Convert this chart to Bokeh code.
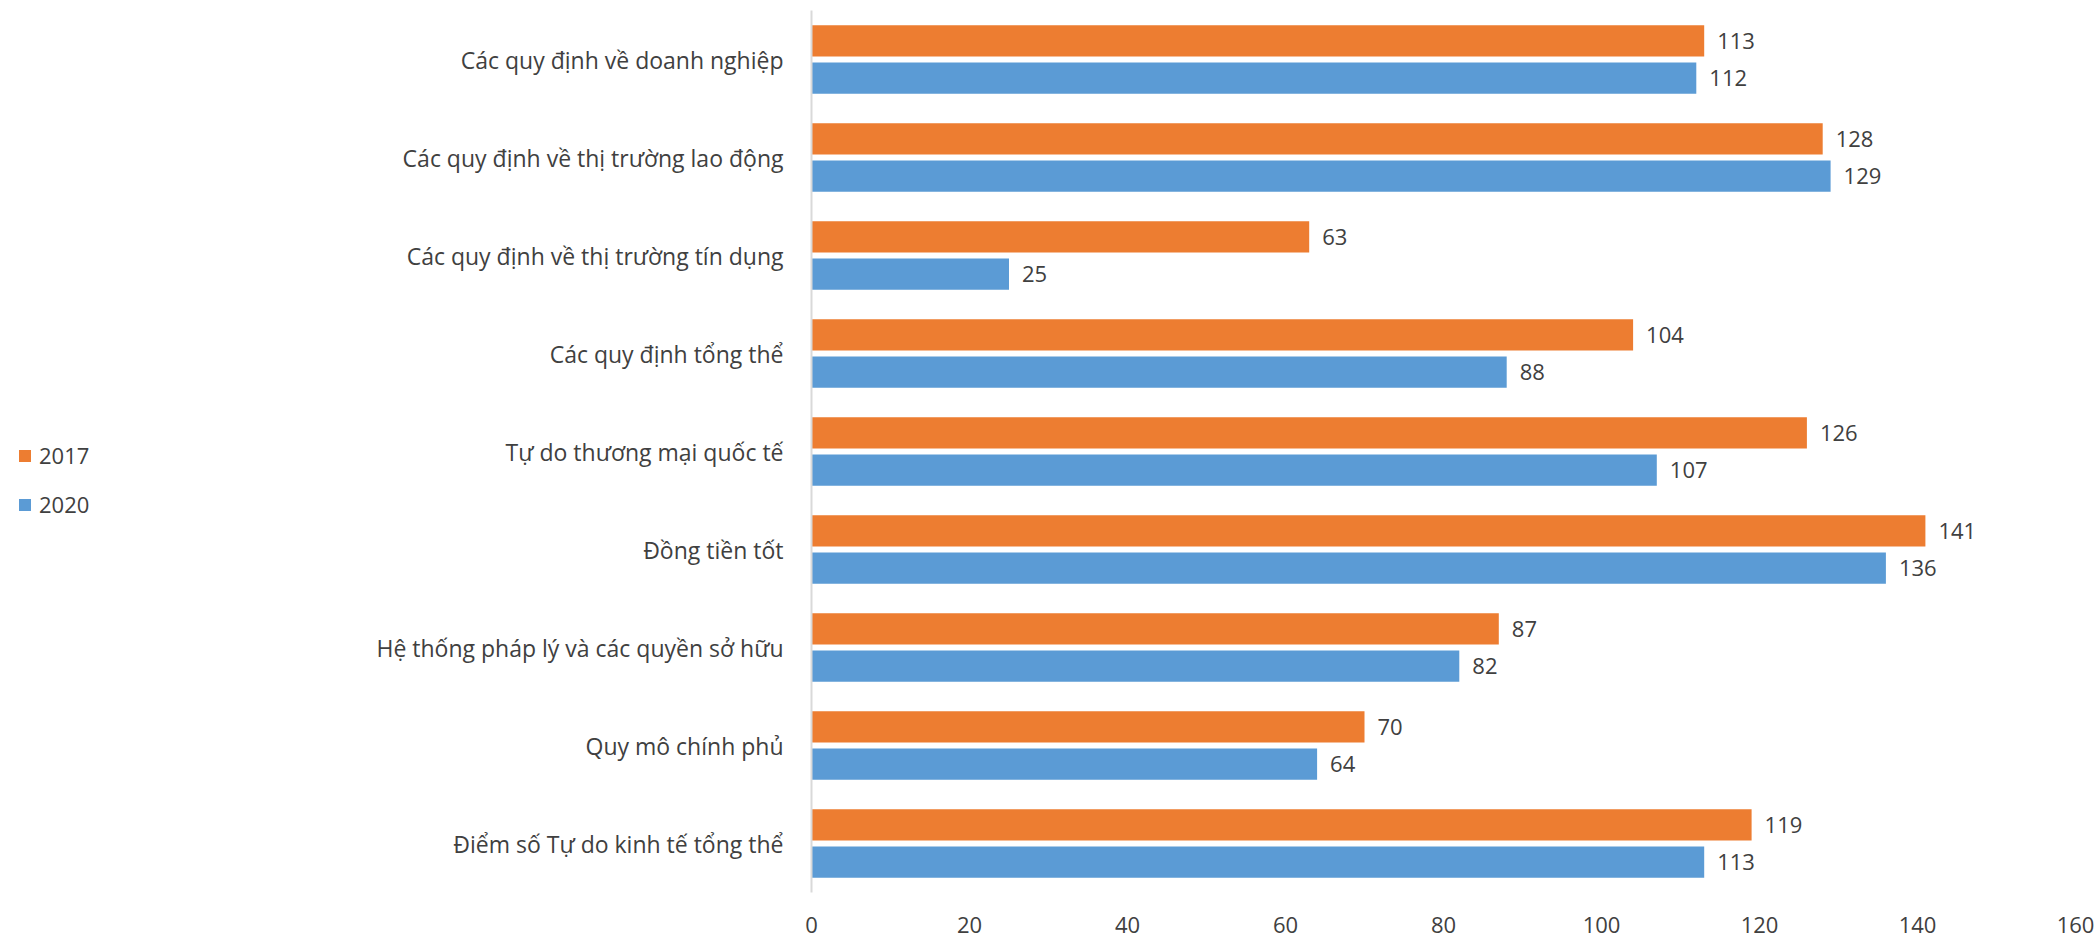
from bokeh.plotting import figure
from bokeh.layouts import row
from bokeh.models import ColumnDataSource, FactorRange, Range1d, Legend, LegendItem, FixedTicker
from bokeh.transform import dodge
from bokeh.core.properties import value
from bokeh.embed import file_html
from bokeh.resources import INLINE

categories = [
    "Các quy định về doanh nghiệp",
    "Các quy định về thị trường lao động",
    "Các quy định về thị trường tín dụng",
    "Các quy định tổng thể",
    "Tự do thương mại quốc tế",
    "Đồng tiền tốt",
    "Hệ thống pháp lý và các quyền sở hữu",
    "Quy mô chính phủ",
    "Điểm số Tự do kinh tế tổng thể",
]
values_2017 = [113, 128, 63, 104, 126, 141, 87, 70, 119]
values_2020 = [112, 129, 25, 88, 107, 136, 82, 64, 113]
series_names = ["2017", "2020"]
x_ticks = [0, 20, 40, 60, 80, 100, 120, 140, 160]

ORANGE = "#ED7D31"
BLUE = "#5B9BD5"
TEXT = "#404040"
FONT = "Open Sans"

LEG_W = 150
TOTAL_W = 2097
H = 939

src = ColumnDataSource(data=dict(
    cat=categories,
    v2017=values_2017,
    v2020=values_2020,
    l2017=[str(v) for v in values_2017],
    l2020=[str(v) for v in values_2020],
))

# ---- legend-only figure on the left ----
lf = figure(width=LEG_W, height=H, x_range=Range1d(0, 1), y_range=Range1d(0, 1),
            output_backend="svg", toolbar_location=None,
            min_border_left=0, min_border_right=0, min_border_top=0, min_border_bottom=0)
lf.axis.visible = False
lf.grid.grid_line_color = None
lf.outline_line_color = None
lf.background_fill_color = "white"
lf.border_fill_color = "white"
# one off-screen cell per series, only so that the legend has a glyph to show
hidden = ColumnDataSource(data=dict(l=[10], r=[11], b=[10], t=[11]))
lr1 = lf.quad(left="l", right="r", bottom="b", top="t", source=hidden,
              fill_color=ORANGE, line_color=None)
lr2 = lf.quad(left="l", right="r", bottom="b", top="t", source=hidden,
              fill_color=BLUE, line_color=None)
legend = Legend(
    items=[LegendItem(label=series_names[0], renderers=[lr1]),
           LegendItem(label=series_names[1], renderers=[lr2])],
    location=(17, 373),
    orientation="vertical",
    background_fill_alpha=0, border_line_color=None,
    label_text_font=FONT, label_text_font_size="22px", label_text_color=TEXT,
    glyph_width=15, glyph_height=15, spacing=19, label_standoff=7, padding=0,
    margin=0,
)
lf.add_layout(legend, "center")

# ---- main chart ----
p = figure(
    width=TOTAL_W - LEG_W, height=H,
    y_range=FactorRange(factors=list(reversed(categories)), range_padding=0),
    x_range=Range1d(0, 160),
    output_backend="svg", toolbar_location=None,
    min_border_left=811 - LEG_W, min_border_right=22, min_border_top=10, min_border_bottom=47,
)
p.outline_line_color = None
p.grid.grid_line_color = None
p.background_fill_color = "white"
p.border_fill_color = "white"

p.hbar(y=dodge("cat", 0.19, range=p.y_range), right="v2017", left=0, height=0.32,
       source=src, fill_color=ORANGE, line_color=None)
p.hbar(y=dodge("cat", -0.19, range=p.y_range), right="v2020", left=0, height=0.32,
       source=src, fill_color=BLUE, line_color=None)

p.text(x="v2017", y=dodge("cat", 0.19, range=p.y_range), text="l2017", source=src,
       x_offset=13, text_baseline="middle", text_align="left",
       text_font=value(FONT), text_font_size="22px", text_color=TEXT)
p.text(x="v2020", y=dodge("cat", -0.19, range=p.y_range), text="l2020", source=src,
       x_offset=13, text_baseline="middle", text_align="left",
       text_font=value(FONT), text_font_size="22px", text_color=TEXT)

xa = p.xaxis[0]
xa.ticker = FixedTicker(ticks=x_ticks)
xa.axis_line_color = None
xa.major_tick_line_color = None
xa.minor_tick_line_color = None
xa.major_label_standoff = 18
xa.major_label_text_font = FONT
xa.major_label_text_font_size = "22px"
xa.major_label_text_color = TEXT

ya = p.yaxis[0]
ya.axis_line_color = "#D9D9D9"
ya.axis_line_width = 2
ya.major_tick_line_color = None
ya.minor_tick_line_color = None
ya.major_label_standoff = 22
ya.major_label_text_font = FONT
ya.major_label_text_font_size = "23px"
ya.major_label_text_color = TEXT

layout = row(lf, p, spacing=0)
open("out.html", "w").write(file_html(layout, INLINE))
